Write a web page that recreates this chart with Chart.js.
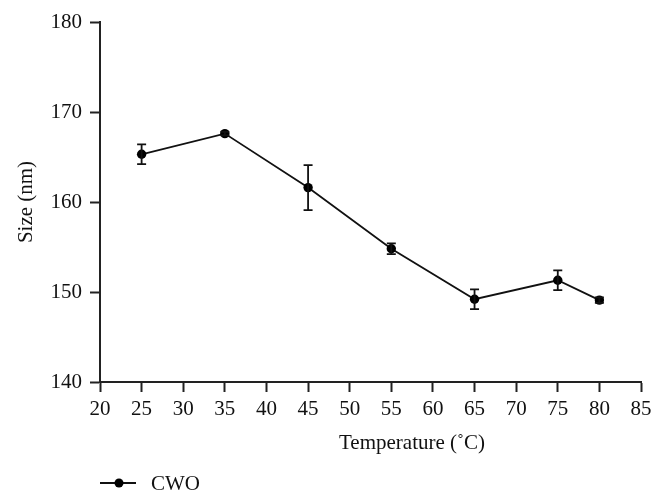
<!DOCTYPE html>
<html>
<head>
<meta charset="utf-8">
<script src="https://cdn.jsdelivr.net/npm/chart.js@4"></script>
<style>
  body { margin: 0; background: #fff; }
  #wrap { width: 664px; height: 503px; }
</style>
</head>
<body>
<div id="wrap"><canvas id="myChart"></canvas></div>
<script>
// data
var temps = [25, 35, 45, 55, 65, 75, 80];
var sizes = [165.3, 167.6, 161.6, 154.8, 149.2, 151.3, 149.1];
var errors = [1.1, 0.2, 2.5, 0.6, 1.1, 1.1, 0.3];
var xTicks = [20, 25, 30, 35, 40, 45, 50, 55, 60, 65, 70, 75, 80, 85];
var yTicks = [140, 150, 160, 170, 180];
var xTitle = 'Temperature (\u02DAC)';
var yTitle = 'Size (nm)';
var seriesName = 'CWO';

var serif = "'Liberation Serif', 'DejaVu Serif', serif";

// error bars drawn through the scales
var errorBars = {
    id: 'errorBars',
    afterDatasetsDraw: function (chart) {
        var c = chart.ctx;
        var xs = chart.scales.x, ys = chart.scales.y;
        c.save();
        c.strokeStyle = '#111';
        c.lineWidth = 1.8;
        for (var i = 0; i < temps.length; i++) {
            var px = xs.getPixelForValue(temps[i]);
            var top = ys.getPixelForValue(sizes[i] + errors[i]);
            var bot = ys.getPixelForValue(sizes[i] - errors[i]);
            c.beginPath();
            c.moveTo(px, top); c.lineTo(px, bot);
            c.moveTo(px - 4.5, top); c.lineTo(px + 4.5, top);
            c.moveTo(px - 4.5, bot); c.lineTo(px + 4.5, bot);
            c.stroke();
        }
        c.restore();
    }
};

// axis titles and legend
var labelsPlugin = {
    id: 'labelsPlugin',
    afterDraw: function (chart) {
        var c = chart.ctx;
        var area = chart.chartArea;
        c.save();
        c.fillStyle = '#111';
        c.font = '21px ' + serif;
        c.textAlign = 'center';
        c.textBaseline = 'alphabetic';
        c.fillText(xTitle, 412, 449);

        c.save();
        c.translate(32, (area.top + area.bottom) / 2);
        c.rotate(-Math.PI / 2);
        c.fillText(yTitle, 0, 0);
        c.restore();

        var y = 483;
        c.strokeStyle = '#111';
        c.lineWidth = 1.8;
        c.beginPath();
        c.moveTo(100, y); c.lineTo(136, y);
        c.stroke();
        c.fillStyle = '#000';
        c.beginPath();
        c.arc(119, y, 4.5, 0, Math.PI * 2);
        c.fill();
        c.fillStyle = '#111';
        c.textAlign = 'left';
        c.fillText(seriesName, 151, y + 7);
        c.restore();
    }
};

var ctx = document.getElementById('myChart').getContext('2d');
var chart = new Chart(ctx, {
    type: 'line',
    data: {
        datasets: [{
            label: seriesName,
            data: temps.map(function (t, i) { return { x: t, y: sizes[i] }; }),
            borderColor: '#111',
            borderWidth: 1.8,
            backgroundColor: '#000',
            pointRadius: 4.7,
            pointBackgroundColor: '#000',
            pointBorderWidth: 0,
            tension: 0
        }]
    },
    options: {
        responsive: true,
        maintainAspectRatio: false,
        animation: false,
        layout: { padding: { top: 22, right: 23, bottom: 60, left: 0 } },
        plugins: { legend: { display: false }, tooltip: { enabled: false } },
        scales: {
            x: {
                type: 'linear',
                min: 20, max: 85,
                afterBuildTicks: function (s) { s.ticks = xTicks.map(function (v) { return { value: v }; }); },
                grid: { display: true, drawOnChartArea: false, drawTicks: true, tickLength: 10, tickColor: '#222', tickWidth: 2 },
                border: { display: true, color: '#222', width: 2 },
                ticks: { color: '#111', font: { family: serif, size: 21 }, padding: 5, maxRotation: 0, autoSkip: false },
                afterFit: function (s) { s.height = 61; }
            },
            y: {
                min: 140, max: 180,
                afterBuildTicks: function (s) { s.ticks = yTicks.map(function (v) { return { value: v }; }); },
                grid: { display: true, drawOnChartArea: false, drawTicks: true, tickLength: 10, tickColor: '#222', tickWidth: 2 },
                border: { display: true, color: '#222', width: 2 },
                ticks: { color: '#111', font: { family: serif, size: 21 }, padding: 8 },
                afterFit: function (s) { s.width = 100; }
            }
        }
    },
    plugins: [errorBars, labelsPlugin]
});
</script>
</body>
</html>
